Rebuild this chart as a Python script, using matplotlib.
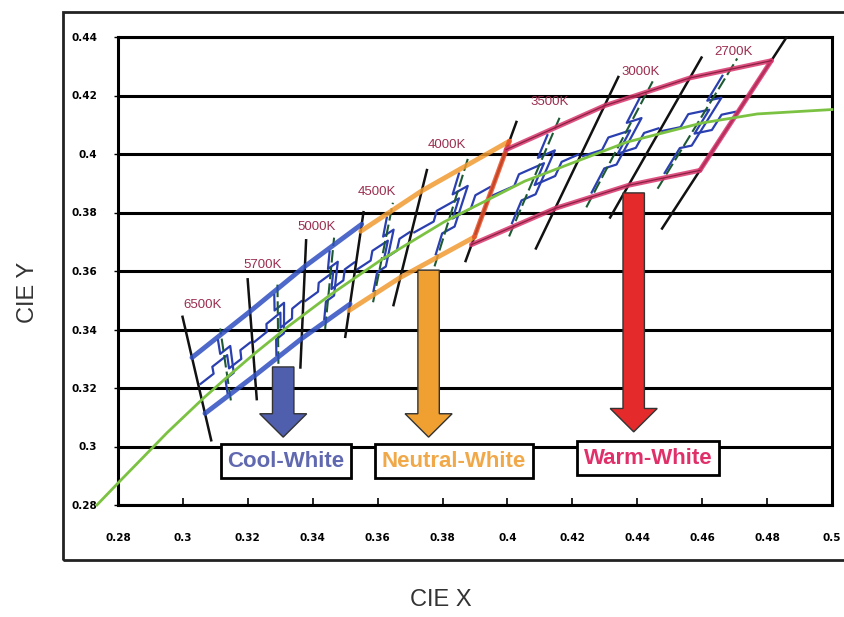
import matplotlib
matplotlib.use("Agg")
import matplotlib.pyplot as plt
import numpy as np
from matplotlib.patches import Rectangle, FancyArrow

# ANSI C78.377 quadrangles, corners: top-left, top-right, bottom-right, bottom-left
cct_names = ["6500K", "5700K", "5000K", "4500K", "4000K", "3500K", "3000K", "2700K"]
quad_tl = [(0.3028, 0.3304), (0.3207, 0.3462), (0.3376, 0.3616), (0.3548, 0.3736),
           (0.3736, 0.3874), (0.3996, 0.4015), (0.4299, 0.4165), (0.4562, 0.4260)]
quad_tr = [(0.3207, 0.3462), (0.3376, 0.3616), (0.3551, 0.3760), (0.3736, 0.3874),
           (0.4006, 0.4044), (0.4299, 0.4165), (0.4562, 0.4260), (0.4813, 0.4319)]
quad_br = [(0.3222, 0.3243), (0.3366, 0.3369), (0.3515, 0.3487), (0.3670, 0.3578),
           (0.3898, 0.3716), (0.4147, 0.3814), (0.4373, 0.3893), (0.4593, 0.3944)]
quad_bl = [(0.3068, 0.3113), (0.3222, 0.3243), (0.3366, 0.3369), (0.3512, 0.3465),
           (0.3670, 0.3578), (0.3889, 0.3690), (0.4147, 0.3814), (0.4373, 0.3893)]

# CCT label positions
label_x = [0.3062, 0.3244, 0.3413, 0.3598, 0.3814, 0.4131, 0.4409, 0.4695]
label_y = [0.3484, 0.3620, 0.3750, 0.3870, 0.4030, 0.4178, 0.4280, 0.4349]

# Planckian locus (black body curve)
planck_x = [0.2735, 0.2807, 0.2866, 0.2952, 0.3064, 0.3135, 0.3221, 0.3325, 0.3451,
            0.3608, 0.3805, 0.4053, 0.4369, 0.4599, 0.4770, 0.5000]
planck_y = [0.2800, 0.2883, 0.2950, 0.3048, 0.3166, 0.3236, 0.3318, 0.3411, 0.3516,
            0.3636, 0.3768, 0.3907, 0.4041, 0.4106, 0.4137, 0.4152]

# isotherm boundary lines (top point, bottom point) with extension fractions
iso_top = [(0.3028, 0.3304), (0.3207, 0.3462), (0.3376, 0.3616), (0.3551, 0.3760),
           (0.3736, 0.3874), (0.4006, 0.4044), (0.4299, 0.4165), (0.4562, 0.4260), (0.4813, 0.4319)]
iso_bot = [(0.3068, 0.3113), (0.3222, 0.3243), (0.3366, 0.3369), (0.3515, 0.3487),
           (0.3670, 0.3578), (0.3898, 0.3716), (0.4147, 0.3814), (0.4373, 0.3893), (0.4593, 0.3944)]
iso_ext_top = [0.73, 0.50, 0.36, 0.15, 0.24, 0.20, 0.28, 0.19, 0.25]
iso_ext_bot = [0.48, 0.37, 0.40, 0.41, 0.32, 0.25, 0.39, 0.30, 0.53]

groups = ["Cool-White", "Neutral-White", "Warm-White"]
group_members = [[0, 1, 2], [3, 4], [5, 6, 7]]
group_line_colors = ["#2f4fc0", "#f29a30", "#d8346c"]
group_text_colors = ["#6068b0", "#f0a848", "#e0306a"]
group_box_x = [0.3318, 0.3835, 0.4433]
group_box_y = [0.2950, 0.2950, 0.2960]

# arrows: x, top y, bottom y
arrow_x = [0.3309, 0.3757, 0.4389]
arrow_top = [0.3272, 0.3603, 0.3867]
arrow_bot = [0.3032, 0.3032, 0.3050]
arrow_colors = ["#4f5fae", "#f0a030", "#e42a2a"]

# stepped sub-bin pattern inside each quadrangle (u along CCT, v across)
step_h = [(0.04, 0.50), (0.28, 0.50), (0.28, 0.62), (0.55, 0.62), (0.55, 0.40),
          (0.78, 0.40), (0.78, 0.54), (0.96, 0.54)]
step_v = [(0.46, 0.05), (0.46, 0.28), (0.62, 0.28), (0.62, 0.72), (0.44, 0.72), (0.44, 0.95)]


def quad_point(i, u, v):
    bl, br, tl, tr = [np.array(p) for p in (quad_bl[i], quad_br[i], quad_tl[i], quad_tr[i])]
    bottom = (1 - u) * bl + u * br
    top = (1 - u) * tl + u * tr
    return (1 - v) * bottom + v * top


fig = plt.figure(figsize=(8.44, 6.17), dpi=100)
ax = fig.add_axes([118 / 844, 1 - 505 / 617, (832 - 118) / 844, (505 - 37) / 617])

ax.set_xlim(0.28, 0.5)
ax.set_ylim(0.28, 0.44)
ax.set_xticks(np.arange(0.28, 0.5001, 0.02))
ax.set_yticks(np.arange(0.28, 0.4401, 0.02))
ax.set_xticklabels(["%g" % round(v, 2) for v in ax.get_xticks()])
ax.set_yticklabels(["%g" % round(v, 2) for v in ax.get_yticks()])
ax.yaxis.grid(True, color="black", lw=2.2)
ax.set_axisbelow(True)
for s in ax.spines.values():
    s.set_linewidth(2.2)
    s.set_color("black")
ax.tick_params(axis="x", direction="in", length=5, width=1.2, pad=20, labelsize=7.5)
ax.tick_params(axis="y", direction="out", length=3, width=1, pad=12, labelsize=7.5)
for lab in ax.get_xticklabels() + ax.get_yticklabels():
    lab.set_fontweight("bold")

# sub-bin steps and midlines
for i in range(len(cct_names)):
    pts = np.array([quad_point(i, u, v) for u, v in step_h])
    ax.plot(pts[:, 0], pts[:, 1], color="#2a3fb0", lw=1.6, zorder=3)
    pts = np.array([quad_point(i, u, v) for u, v in step_v])
    ax.plot(pts[:, 0], pts[:, 1], color="#2a3fb0", lw=1.6, zorder=3)
    mid = np.array([quad_point(i, 0.5, -0.1), quad_point(i, 0.5, 1.1)])
    ax.plot(mid[:, 0], mid[:, 1], color="#1d5a34", lw=1.5, ls=(0, (6, 2)), zorder=3)

# isotherm lines
for t, b, et, eb in zip(iso_top, iso_bot, iso_ext_top, iso_ext_bot):
    t, b = np.array(t), np.array(b)
    d = t - b
    p1 = t + d * et
    p2 = b - d * eb
    ax.plot([p1[0], p2[0]], [p1[1], p2[1]], color="#111111", lw=1.8, zorder=4)

# group outlines
for g, members in enumerate(group_members):
    col = group_line_colors[g]
    top = [quad_tl[members[0]]] + [quad_tr[i] for i in members]
    bot = [quad_bl[members[0]]] + [quad_br[i] for i in members]
    for edge in (top, bot):
        e = np.array(edge)
        ax.plot(e[:, 0], e[:, 1], color=col, lw=3.5, alpha=0.85, zorder=5,
                solid_capstyle="round")
    if g > 0:
        last = members[-1]
        e = np.array([quad_tr[last], quad_br[last]])
        ax.plot(e[:, 0], e[:, 1], color="#e8502a" if g == 1 else col, lw=3.5,
                alpha=0.85, zorder=5, solid_capstyle="round")
    if g == 2:
        for edge in (top, bot):
            e = np.array(edge)
            ax.plot(e[:, 0], e[:, 1], color="#8a2040", lw=0.9, zorder=5)

# black body curve
ax.plot(planck_x, planck_y, color="#7cc242", lw=2, zorder=6, clip_on=False)

# CCT labels
for name, lx, ly in zip(cct_names, label_x, label_y):
    ax.text(lx, ly, name, color="#9b2d4f", fontsize=9.5, ha="center", va="center",
            zorder=7, family="Liberation Sans")

# arrows
for x, yt, yb, col in zip(arrow_x, arrow_top, arrow_bot, arrow_colors):
    ar = FancyArrow(x, yt, 0, yb - yt, width=0.0066, head_width=0.0145,
                    head_length=0.0080, length_includes_head=True, fc=col,
                    ec="#333333", lw=1.0, zorder=8)
    ax.add_patch(ar)

# category boxes
for name, bx, by, tc in zip(groups, group_box_x, group_box_y, group_text_colors):
    ax.text(bx, by, name, color=tc, fontsize=16, fontweight="bold", ha="center",
            va="center", family="Liberation Sans", zorder=9,
            bbox=dict(boxstyle="square,pad=0.3", fc="white", ec="black", lw=2))

# outer frame
fig.patches.append(Rectangle((63 / 844, 1 - 560 / 617), 1.0, (560 - 12) / 617,
                             transform=fig.transFigure, fill=False, ec="#222222",
                             lw=2, zorder=0))

fig.text(441 / 844, 1 - 600 / 617, "CIE X", ha="center", va="center", fontsize=17,
         color="#333333", family="Liberation Sans")
fig.text(28 / 844, 1 - 292 / 617, "CIE Y", ha="center", va="center", fontsize=17,
         color="#333333", rotation=90, family="Liberation Sans")

fig.savefig("out.png", dpi=100)
